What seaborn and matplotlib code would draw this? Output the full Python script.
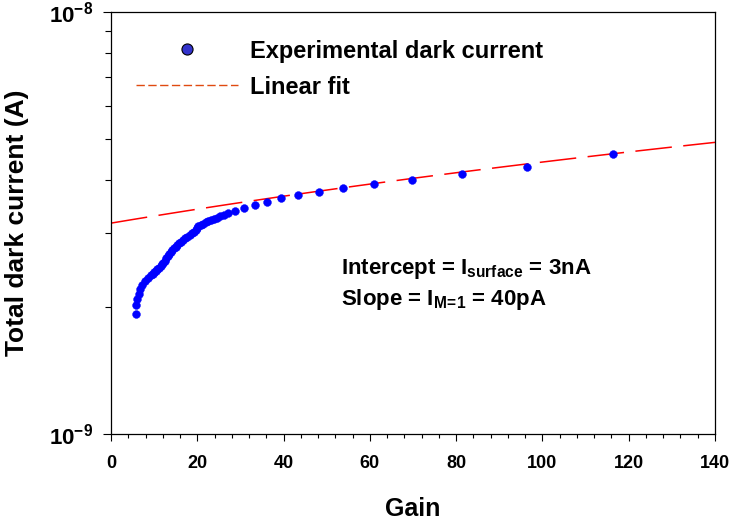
import numpy as np
import pandas as pd
import matplotlib
matplotlib.use("Agg")
import matplotlib.pyplot as plt
from matplotlib.lines import Line2D
from matplotlib.ticker import MultipleLocator, LogLocator, NullFormatter, FixedLocator
import seaborn as sns

# ---- data ----
gain = [5.87, 5.87, 6.10, 6.41, 6.72, 7.19, 7.80, 8.58, 9.27, 9.62, 9.97, 10.35,
        10.74, 11.12, 11.51, 11.82, 12.13, 12.44, 12.75, 13.10, 13.44, 13.83, 14.22,
        14.60, 14.99, 15.41, 15.84, 16.30, 16.77, 17.23, 17.69, 18.20, 18.70, 19.17,
        19.63, 19.95, 20.24, 20.80, 21.33, 21.95, 22.56, 23.20, 23.88, 24.60, 25.27,
        26.10, 27.04, 28.82, 30.91, 33.38, 36.16, 39.5, 43.4, 48.1, 53.7, 60.9,
        69.8, 81.3, 96.4, 116.4]
current = [1.925e-9, 2.021e-9, 2.085e-9, 2.146e-9, 2.202e-9, 2.259e-9, 2.305e-9,
           2.347e-9, 2.380e-9, 2.397e-9, 2.415e-9, 2.435e-9, 2.455e-9, 2.477e-9,
           2.500e-9, 2.523e-9, 2.547e-9, 2.577e-9, 2.608e-9, 2.639e-9, 2.670e-9,
           2.700e-9, 2.729e-9, 2.754e-9, 2.779e-9, 2.805e-9, 2.831e-9, 2.857e-9,
           2.884e-9, 2.910e-9, 2.937e-9, 2.964e-9, 2.991e-9, 3.017e-9, 3.044e-9,
           3.078e-9, 3.112e-9, 3.131e-9, 3.151e-9, 3.171e-9, 3.192e-9, 3.212e-9,
           3.232e-9, 3.256e-9, 3.279e-9, 3.306e-9, 3.333e-9, 3.376e-9, 3.439e-9,
           3.490e-9, 3.553e-9, 3.618e-9, 3.678e-9, 3.751e-9, 3.834e-9, 3.912e-9,
           4.004e-9, 4.124e-9, 4.285e-9, 4.616e-9]
fit_intercept = 3.16e-9
fit_slope = 1.25e-11
fit_range = [0, 140]
x_ticks = [0, 20, 40, 60, 80, 100, 120, 140]
y_ticks = [1e-9, 1e-8]
y_tick_labels = [r"$\mathbf{10^{-9}}$", r"$\mathbf{10^{-8}}$"]

sns.set_theme(style="white")
plt.rcParams['font.family'] = ['Liberation Sans', 'DejaVu Sans']
plt.rcParams['font.weight'] = 'bold'
plt.rcParams['text.color'] = 'black'
plt.rcParams['axes.labelcolor'] = 'black'
plt.rcParams['xtick.color'] = 'black'
plt.rcParams['ytick.color'] = 'black'
plt.rcParams['mathtext.fontset'] = 'custom'
plt.rcParams['mathtext.rm'] = 'Liberation Sans:bold'
plt.rcParams['mathtext.bf'] = 'Liberation Sans:bold'
plt.rcParams['mathtext.it'] = 'Liberation Sans:bold'

df = pd.DataFrame({"Gain": gain, "Current": current})
fit_g = np.linspace(fit_range[0], fit_range[1], 50)
fit_df = pd.DataFrame({"Gain": fit_g, "Current": fit_intercept + fit_slope * fit_g})

fig = plt.figure(figsize=(7.33, 5.21), dpi=100)
ax = fig.add_axes([111/733, 1-434/521, 604/733, 422/521])

sns.lineplot(data=fit_df, x="Gain", y="Current", ax=ax, color="#ff0000", lw=1.1,
             linestyle=(0, (24, 7.5)), zorder=2)
sns.scatterplot(data=df, x="Gain", y="Current", ax=ax, color="#0000ff", s=32,
                edgecolor="#0000ff", linewidth=0.3, zorder=3)

ax.set_yscale("log")
ax.set_xlim(0, 140)
ax.set_ylim(1e-9, 1e-8)
ax.xaxis.set_major_locator(FixedLocator(x_ticks))
ax.xaxis.set_minor_locator(MultipleLocator(4))
ax.yaxis.set_major_locator(FixedLocator(y_ticks))
ax.set_yticklabels(y_tick_labels)
ax.yaxis.set_minor_locator(LogLocator(base=10, subs=np.arange(2, 10)))
ax.yaxis.set_minor_formatter(NullFormatter())
ax.set_xticklabels([str(t) for t in x_ticks])

ax.tick_params(axis='x', which='major', direction='out', length=5, width=0.8,
               pad=10, labelsize=13, bottom=True, top=False, color='black')
ax.tick_params(axis='x', which='minor', direction='out', length=3, width=0.8,
               bottom=True, top=False, color='black')
ax.tick_params(axis='y', which='major', direction='out', length=6, width=0.8,
               pad=7, labelsize=16, left=True, right=False, color='black')
ax.tick_params(axis='y', which='minor', direction='out', length=4, width=0.8,
               left=True, right=False, color='black')
for lab in ax.get_xticklabels():
    lab.set_fontweight('bold')

for sp in ax.spines.values():
    sp.set_visible(True)
    sp.set_color('black')
    sp.set_linewidth(0.9)

ax.set_xlabel("Gain", fontsize=18, fontweight='bold', labelpad=18)
ax.set_ylabel("Total dark current (A)", fontsize=19, fontweight='bold', labelpad=14)

handles = [
    Line2D([], [], linestyle='none', marker='o', markersize=8,
           markerfacecolor='#3333cc', markeredgecolor='black', markeredgewidth=0.8),
    Line2D([], [], color='#e04a10', lw=1.0, linestyle=(0, (6, 2.5))),
]
ax.legend(handles, ["Experimental dark current", "Linear fit"], loc='upper left',
          bbox_to_anchor=(0.007, 0.985), frameon=False,
          handlelength=4.3, handletextpad=0.5, labelspacing=0.55,
          prop={'weight': 'bold', 'size': 17})

ax.text(0.38, 0.378, r"Intercept = I$_{\mathbf{surface}}$ = 3nA", transform=ax.transAxes,
        fontsize=16, fontweight='bold', ha='left', va='baseline')
ax.text(0.38, 0.305, r"Slope = I$_{\mathbf{M\!=\!1}}$ = 40pA", transform=ax.transAxes,
        fontsize=16, fontweight='bold', ha='left', va='baseline')

fig.savefig("out.png", dpi=100)
